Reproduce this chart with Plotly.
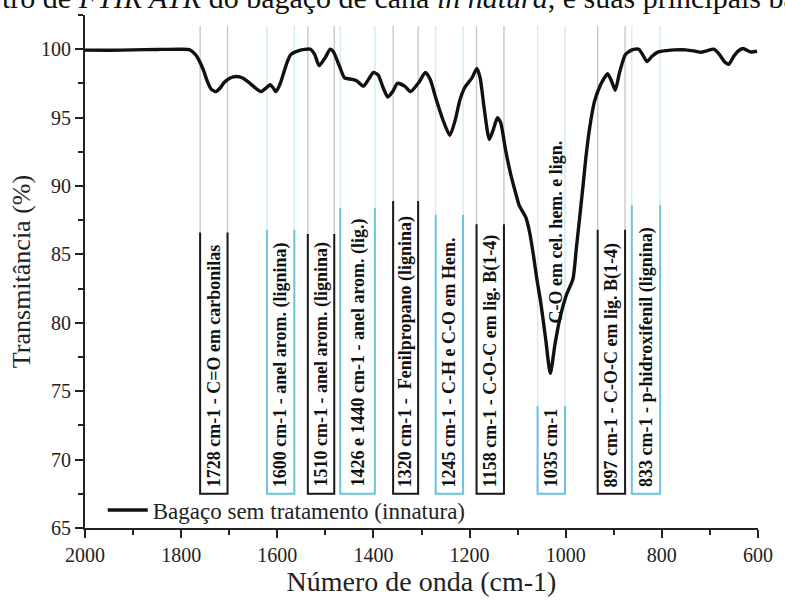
import plotly.graph_objects as go

# ---------------- data ----------------
wavenumber = [2000, 1950, 1900, 1850, 1800, 1783, 1770, 1763, 1754, 1746, 1738, 1728, 1718, 1711,
              1698, 1685, 1672, 1660, 1645, 1634, 1622, 1615, 1609, 1603, 1596, 1589, 1580, 1572,
              1555, 1531, 1522, 1513, 1500, 1490, 1483, 1470, 1460, 1445, 1435, 1421, 1410, 1400,
              1390, 1380, 1370, 1360, 1350, 1335, 1323, 1305, 1292, 1282, 1270, 1255, 1241, 1230,
              1220, 1210, 1195, 1185, 1178, 1170, 1159, 1150, 1142, 1135, 1125, 1114, 1105, 1097,
              1083, 1075, 1067, 1060, 1052, 1042, 1032, 1022, 1011, 999, 985, 978, 971, 964, 958,
              950, 940, 930, 923, 913, 905, 897, 888, 876, 862, 848, 840, 831, 820, 807, 790, 774,
              750, 730, 719, 705, 692, 680, 670, 661, 650, 640, 631, 616, 602]
transmittance = [99.93, 99.92, 99.95, 99.98, 100.0, 99.97, 99.6, 99.2, 98.5, 97.7, 97.1, 96.9, 97.2, 97.55,
                 97.9, 98.0, 97.9, 97.6, 97.15, 96.9, 97.2, 97.4, 97.2, 96.9, 97.3, 98.0, 99.0, 99.6,
                 99.9, 100.0, 99.6, 98.8, 99.4, 100.0, 99.8, 98.7, 97.9, 97.8, 97.7, 97.3, 97.8, 98.3,
                 98.1, 97.2, 96.5, 96.9, 97.5, 97.3, 96.9, 97.6, 98.3, 97.8, 96.4, 94.8, 93.7, 94.8,
                 96.3, 97.2, 97.9, 98.6, 97.9, 95.8, 93.4, 94.2, 95.0, 94.6, 92.6, 90.8, 89.6, 88.6,
                 87.7, 86.6, 84.9, 83.2, 81.5, 78.9, 76.3, 78.5, 80.5, 82.0, 83.2, 85.4, 87.7, 90.0, 92.1,
                 94.3, 96.2, 97.2, 97.7, 98.2, 97.7, 97.0, 98.3, 99.6, 99.95, 100.0, 99.6, 99.1, 99.5, 99.8,
                 99.9, 99.95, 99.95, 99.85, 99.78, 99.9, 100.0, 99.6, 99.1, 98.9, 99.5, 99.9, 100.05, 99.8,
                 99.85]
series_name = "Bagaço sem tratamento (innatura)"

band_pos = [1732, 1593, 1509, 1433, 1333, 1242, 1157, 1030, 905, 833]
band_labels = [
    "1728 cm-1 - C=O em carbonilas",
    "1600 cm-1 - anel arom. (lignina)",
    "1510 cm-1 - anel arom. (lignina)",
    "1426 e 1440 cm-1 - anel arom. (lig.)",
    "1320 cm-1 -  Fenilpropano (lignina)",
    "1245 cm-1 - C-H e C-O em Hem.",
    "1158 cm-1 - C-O-C em lig. B(1-4)",
    "1035 cm-1",
    "897 cm-1 - C-O-C em lig. B(1-4)",
    "833 cm-1 - p-hidroxifenil (lignina)",
]
extra_label = "- C-O em cel. hem. e lign."
extra_label_pos = 1020

x_ticks = [2000, 1800, 1600, 1400, 1200, 1000, 800, 600]
y_ticks = [65, 70, 75, 80, 85, 90, 95, 100]

caption = "tro de <i>FTIR ATR</i> do bagaço de cana <i>in natura</i>, e suas principais ba"

# ---------------- styles ----------------
band_kind = ["k", "b", "k", "b", "k", "b", "k", "b", "k", "b"]
band_width = [57, 57, 55, 72, 52, 57, 57, 57, 57, 59]
band_thick_top = [86.6, 86.8, 86.5, 88.4, 88.9, 87.9, 87.2, 73.9, 86.8, 88.6]
dark = {"k": "#1a1a1a", "b": "#6cc3df"}
light = {"k": "#c4c4c4", "b": "#cfeaf3"}
box_bottom = 67.5
box_top = 101.7
FONT = "Liberation Serif, Times New Roman, serif"

fig = go.Figure()
fig.add_trace(go.Scatter(x=wavenumber, y=transmittance, mode="lines", name=series_name,
                         line=dict(color="#111111", width=3.4, shape="spline", smoothing=0.6)))

shapes = []
annotations = []
for pos, lab, kind, w, tt in zip(band_pos, band_labels, band_kind, band_width, band_thick_top):
    x0, x1 = pos + w / 2, pos - w / 2
    shapes.append(dict(type="path", xref="x", yref="y", layer="below",
                       path=f"M {x0},{box_top} L {x0},{box_bottom} L {x1},{box_bottom} L {x1},{box_top}",
                       line=dict(color=light[kind], width=1.3)))
    shapes.append(dict(type="path", xref="x", yref="y", layer="below",
                       path=f"M {x0},{tt} L {x0},{box_bottom} L {x1},{box_bottom} L {x1},{tt}",
                       line=dict(color=dark[kind], width=2)))
    annotations.append(dict(x=pos, y=box_bottom + 0.35, xref="x", yref="y", text=f"<b>{lab}</b>",
                            textangle=-90, showarrow=False, xanchor="center", yanchor="bottom",
                            font=dict(family=FONT, size=18, color="#111111")))

annotations.append(dict(x=extra_label_pos, y=79.0, xref="x", yref="y", text=f"<b>{extra_label}</b>",
                        textangle=-90, showarrow=False, xanchor="center", yanchor="bottom",
                        font=dict(family=FONT, size=18, color="#111111")))

annotations.append(dict(x=-86 / 683, y=0.999, xref="paper", yref="paper", text=caption,
                        showarrow=False, xanchor="left", yanchor="bottom",
                        font=dict(family=FONT, size=30, color="#111111")))

fig.update_layout(
    width=785, height=604,
    margin=dict(l=85, r=17, t=15, b=69),
    paper_bgcolor="white", plot_bgcolor="white",
    font=dict(family=FONT, color="#222222"),
    shapes=shapes, annotations=annotations,
    showlegend=True,
    legend=dict(x=18 / 683, y=0.035, xanchor="left", yanchor="middle",
                bgcolor="rgba(0,0,0,0)", font=dict(family=FONT, size=23, color="#222222"),
                itemwidth=40),
    xaxis=dict(range=[2000, 600], tickvals=x_ticks, ticks="outside", ticklen=8, tickwidth=2,
               tickcolor="#222222", showline=True, linewidth=2, linecolor="#222222",
               showgrid=False, zeroline=False, tickfont=dict(family=FONT, size=20, color="#222222"),
               minor=dict(dtick=100, tick0=2000, ticks="outside", ticklen=5, tickwidth=1.5,
                          tickcolor="#222222", showgrid=False),
               title=dict(text="Número de onda (cm-1)", font=dict(family=FONT, size=28, color="#222222"),
                          standoff=6)),
    yaxis=dict(range=[65, 102.5], tickvals=y_ticks, ticks="outside", ticklen=8, tickwidth=2,
               tickcolor="#222222", showline=True, linewidth=2, linecolor="#222222",
               showgrid=False, zeroline=False, tickfont=dict(family=FONT, size=20, color="#222222"),
               minor=dict(dtick=2.5, tick0=65, ticks="outside", ticklen=5, tickwidth=1.5,
                          tickcolor="#222222", showgrid=False),
               title=dict(text="Transmitância (%)", font=dict(family=FONT, size=26, color="#222222"),
                          standoff=3)),
)

fig.write_html("out.html")
